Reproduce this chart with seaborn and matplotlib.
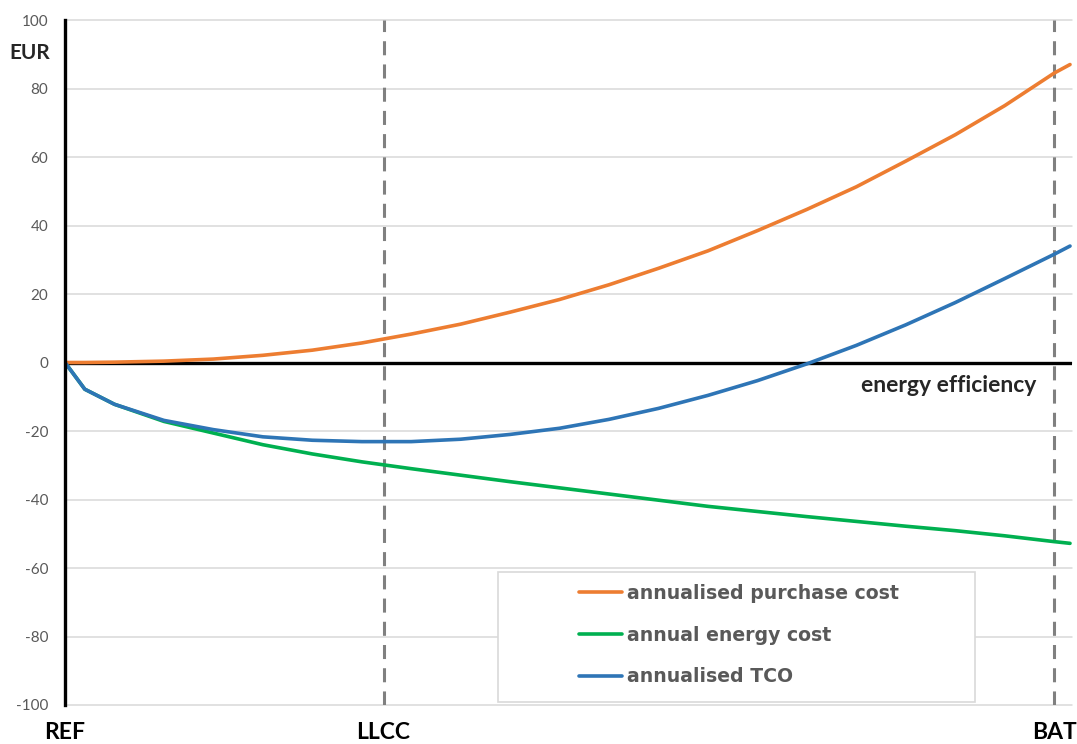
import pandas as pd
import matplotlib
matplotlib.use("Agg")
import matplotlib.pyplot as plt
from matplotlib.patches import Rectangle
import seaborn as sns

# position along the energy-efficiency axis (REF = 0, BAT = 100)
efficiency = [0, 2, 5, 10, 15, 20, 25, 30, 35, 40, 45, 50, 55, 60, 65, 70, 75, 80, 85, 90, 95, 100, 101.6]
purchase = [0, 0, 0.1, 0.4, 1.0, 2.1, 3.6, 5.7, 8.3, 11.2, 14.7, 18.4, 22.7, 27.5, 32.6, 38.5, 44.7,
            51.3, 58.8, 66.5, 75.0, 84.5, 87.0]
energy = [0, -7.8, -12.2, -17.2, -20.6, -24.0, -26.7, -29.0, -31.0, -32.9, -34.8, -36.6, -38.4, -40.2,
          -42.0, -43.5, -45.0, -46.4, -47.8, -49.1, -50.6, -52.3, -52.8]
tco = [0, -7.8, -12.2, -16.9, -19.6, -21.7, -22.7, -23.1, -23.1, -22.4, -21.0, -19.2, -16.6, -13.4,
       -9.6, -5.3, -0.4, 5.0, 11.0, 17.5, 24.5, 31.6, 34.0]

series_names = ["annualised purchase cost", "annual energy cost", "annualised TCO"]
colors = ["#ED7D31", "#00B050", "#2E75B6"]

x_ticks = [0, 32.2, 100]
x_labels = ["REF", "LLCC", "BAT"]
y_ticks = list(range(-100, 101, 20))

df = pd.DataFrame({"x": efficiency, series_names[0]: purchase,
                   series_names[1]: energy, series_names[2]: tco})

sns.set_style("white")
plt.rcParams["font.family"] = ["Lato", "DejaVu Sans"]

fig = plt.figure(figsize=(10.77, 7.44), dpi=100)
ax = fig.add_axes([65 / 1077, 39 / 744, 1007 / 1077, 685 / 744])

for yv in y_ticks:
    ax.axhline(yv, color="#d9d9d9", lw=1.1, zorder=0, clip_on=False)
ax.axhline(0, color="black", lw=2.4, zorder=1)

for xv in x_ticks[1:]:
    ax.axvline(xv, color="#808080", lw=2.2, dashes=(4.6, 3.0), zorder=1)

for name, col, z in zip(series_names, colors, [3, 2, 4]):
    sns.lineplot(data=df, x="x", y=name, color=col, lw=2.6, ax=ax,
                 label=name, zorder=z, legend=False)

ax.set_xlim(0, 101.8)
ax.set_ylim(-100, 100)
ax.set_xlabel("")
ax.set_ylabel("")
ax.set_yticks(y_ticks)
ax.set_yticklabels([str(v) for v in y_ticks], color="#595959", fontsize=11)
ax.set_xticks(x_ticks)
ax.set_xticklabels(x_labels, fontsize=16.5, fontweight="bold", color="black")
ax.tick_params(axis="y", length=0, pad=12)
ax.tick_params(axis="x", length=0, pad=12)

for s in ["top", "right", "bottom"]:
    ax.spines[s].set_visible(False)
ax.spines["left"].set_color("black")
ax.spines["left"].set_linewidth(2.4)
ax.spines["left"].set_zorder(5)

ax.text(-3.6, 90.5, "EUR", fontsize=15, fontweight="bold", ha="center", va="center")
ax.text(98.2, -6.7, "energy efficiency", fontsize=16.5, fontweight="bold",
        ha="right", va="center")

box = Rectangle((498 / 1077, 1 - 702 / 744), 477 / 1077, 130 / 744,
                transform=fig.transFigure, facecolor="white",
                edgecolor="#d9d9d9", lw=1.2, zorder=5, clip_on=False)
ax.add_patch(box)
leg = ax.legend(loc="upper left", bbox_to_anchor=(579 / 1077, 1 - 584 / 744),
                bbox_transform=fig.transFigure, frameon=False, borderpad=0,
                borderaxespad=0, handlelength=2.3, handletextpad=0.22,
                labelspacing=1.2, prop={"family": "DejaVu Sans", "weight": "bold", "size": 13.6})
leg.set_zorder(6)
for t in leg.get_texts():
    t.set_color("#595959")

fig.savefig("out.png", dpi=100)
